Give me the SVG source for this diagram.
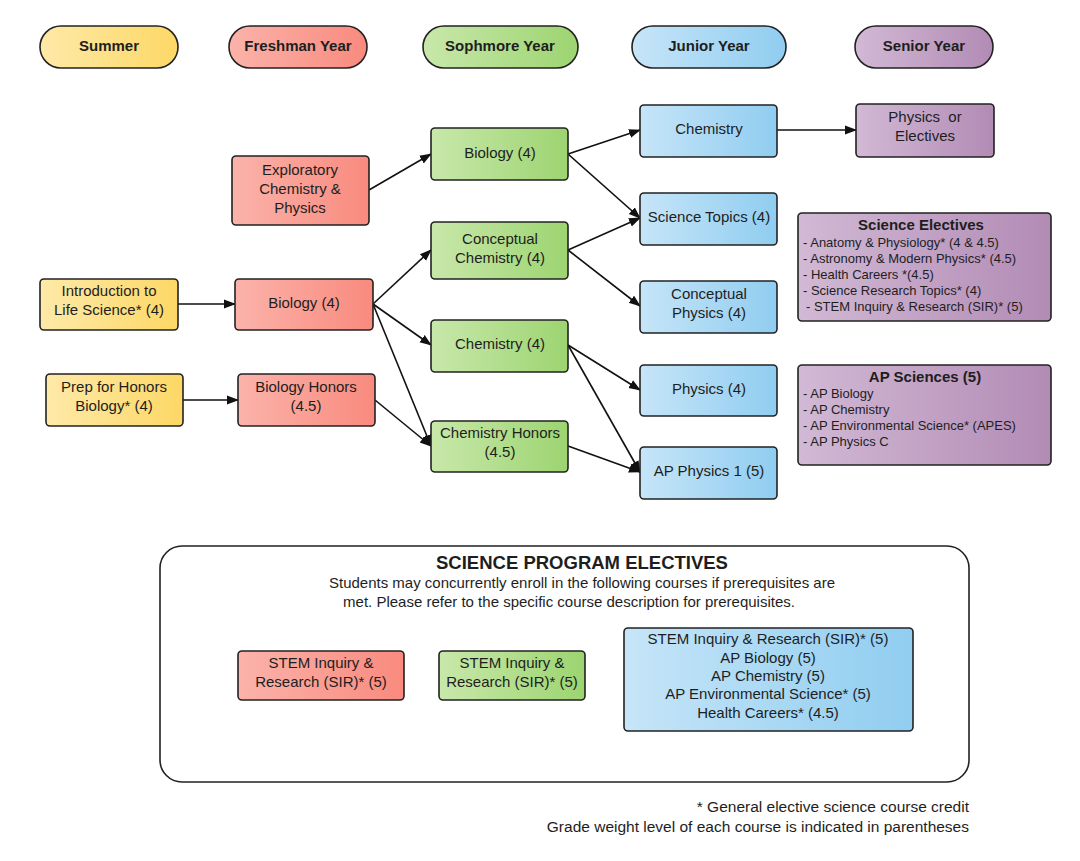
<svg xmlns="http://www.w3.org/2000/svg" width="1080" height="861" viewBox="0 0 1080 861">
<defs>
<linearGradient id="gY" x1="0" y1="0" x2="1" y2="0"><stop offset="0" stop-color="#fee9a8"/><stop offset="1" stop-color="#fdd866"/></linearGradient>
<linearGradient id="gR" x1="0" y1="0" x2="1" y2="0"><stop offset="0" stop-color="#fbb3aa"/><stop offset="1" stop-color="#f98a7e"/></linearGradient>
<linearGradient id="gG" x1="0" y1="0" x2="1" y2="0"><stop offset="0" stop-color="#c8e8aa"/><stop offset="1" stop-color="#9dd471"/></linearGradient>
<linearGradient id="gB" x1="0" y1="0" x2="1" y2="0"><stop offset="0" stop-color="#c6e5f8"/><stop offset="1" stop-color="#90cdf0"/></linearGradient>
<linearGradient id="gP" x1="0" y1="0" x2="1" y2="0"><stop offset="0" stop-color="#d2b9d5"/><stop offset="1" stop-color="#b28bb5"/></linearGradient>
<marker id="ah" viewBox="0 0 12 12" refX="11" refY="6" markerWidth="12" markerHeight="12" markerUnits="userSpaceOnUse" orient="auto"><path d="M0,1.5 L12,6 L0,10.5 Z" fill="#111"/></marker>
<style>
.n{stroke:#222;stroke-width:1.6}
.t{font-family:"Liberation Sans",Arial,sans-serif;font-size:15px;fill:#1e1e1e;text-anchor:middle}
.h{font-family:"Liberation Sans",Arial,sans-serif;font-size:15px;font-weight:bold;fill:#1e1e1e;text-anchor:middle}
.l{font-family:"Liberation Sans",Arial,sans-serif;font-size:13px;fill:#1e1e1e}
.c{stroke:#111;stroke-width:1.6;fill:none;marker-end:url(#ah)}
</style>
</defs>
<rect width="1080" height="861" fill="#fff"/>

<g id="hdr-summer"><rect class="n" x="40" y="26" width="138" height="42" rx="21" fill="url(#gY)"/><text class="h" x="109" y="51">Summer</text></g>
<g id="hdr-freshman"><rect class="n" x="229" y="26" width="138" height="42" rx="21" fill="url(#gR)"/><text class="h" x="298" y="51">Freshman Year</text></g>
<g id="hdr-sophmore"><rect class="n" x="423" y="26" width="155" height="42" rx="21" fill="url(#gG)"/><text class="h" x="500" y="51">Sophmore Year</text></g>
<g id="hdr-junior"><rect class="n" x="632" y="26" width="154" height="42" rx="21" fill="url(#gB)"/><text class="h" x="709" y="51">Junior Year</text></g>
<g id="hdr-senior"><rect class="n" x="855" y="26" width="138" height="42" rx="21" fill="url(#gP)"/><text class="h" x="924" y="51">Senior Year</text></g>

<g id="connectors">
<line class="c" x1="369" y1="190" x2="431" y2="154"/>
<line class="c" x1="568" y1="154" x2="640" y2="130"/>
<line class="c" x1="568" y1="154" x2="640" y2="218"/>
<line class="c" x1="568" y1="250" x2="640" y2="218"/>
<line class="c" x1="568" y1="250" x2="640" y2="306"/>
<line class="c" x1="777" y1="130" x2="856" y2="130"/>
<line class="c" x1="178" y1="304" x2="235" y2="304"/>
<line class="c" x1="373" y1="304" x2="431" y2="250"/>
<line class="c" x1="373" y1="304" x2="431" y2="345"/>
<line class="c" x1="373" y1="304" x2="431" y2="446"/>
<line class="c" x1="183" y1="400" x2="238" y2="400"/>
<line class="c" x1="375" y1="400" x2="431" y2="446"/>
<line class="c" x1="568" y1="345" x2="640" y2="390"/>
<line class="c" x1="568" y1="345" x2="640" y2="472"/>
<line class="c" x1="568" y1="446" x2="640" y2="472"/>
</g>

<g id="exploratory"><rect class="n" x="232" y="156" width="137" height="69" rx="4" fill="url(#gR)"/><text class="t" x="300" y="175">Exploratory</text><text class="t" x="300" y="194">Chemistry &amp;</text><text class="t" x="300" y="213">Physics</text></g>
<g id="intro-life"><rect class="n" x="40" y="279" width="138" height="51" rx="4" fill="url(#gY)"/><text class="t" x="109" y="296">Introduction to</text><text class="t" x="109" y="315">Life Science* (4)</text></g>
<g id="biology-fr"><rect class="n" x="235" y="279" width="138" height="51" rx="4" fill="url(#gR)"/><text class="t" x="304" y="308">Biology (4)</text></g>
<g id="prep-honors"><rect class="n" x="46" y="374" width="137" height="52" rx="4" fill="url(#gY)"/><text class="t" x="114" y="392">Prep for Honors</text><text class="t" x="114" y="411">Biology* (4)</text></g>
<g id="biology-honors"><rect class="n" x="238" y="374" width="137" height="52" rx="4" fill="url(#gR)"/><text class="t" x="306" y="392">Biology Honors</text><text class="t" x="306" y="411">(4.5)</text></g>

<g id="biology-so"><rect class="n" x="431" y="128" width="137" height="52" rx="4" fill="url(#gG)"/><text class="t" x="500" y="158">Biology (4)</text></g>
<g id="concept-chem"><rect class="n" x="431" y="222" width="137" height="57" rx="4" fill="url(#gG)"/><text class="t" x="500" y="244">Conceptual</text><text class="t" x="500" y="263">Chemistry (4)</text></g>
<g id="chemistry-so"><rect class="n" x="431" y="320" width="137" height="52" rx="4" fill="url(#gG)"/><text class="t" x="500" y="349">Chemistry (4)</text></g>
<g id="chem-honors"><rect class="n" x="431" y="421" width="137" height="51" rx="4" fill="url(#gG)"/><text class="t" x="500" y="438">Chemistry Honors</text><text class="t" x="500" y="457">(4.5)</text></g>

<g id="chemistry-jr"><rect class="n" x="640" y="105" width="137" height="52" rx="4" fill="url(#gB)"/><text class="t" x="709" y="134">Chemistry</text></g>
<g id="sci-topics"><rect class="n" x="640" y="193" width="137" height="52" rx="4" fill="url(#gB)"/><text class="t" x="709" y="222">Science Topics (4)</text></g>
<g id="concept-phys"><rect class="n" x="640" y="281" width="137" height="52" rx="4" fill="url(#gB)"/><text class="t" x="709" y="299">Conceptual</text><text class="t" x="709" y="318">Physics (4)</text></g>
<g id="physics-jr"><rect class="n" x="640" y="365" width="137" height="51" rx="4" fill="url(#gB)"/><text class="t" x="709" y="394">Physics (4)</text></g>
<g id="ap-physics1"><rect class="n" x="640" y="447" width="137" height="52" rx="4" fill="url(#gB)"/><text class="t" x="709" y="476">AP Physics 1 (5)</text></g>

<g id="physics-electives"><rect class="n" x="856" y="104" width="138" height="53" rx="4" fill="url(#gP)"/><text class="t" x="925" y="122">Physics&#160; or</text><text class="t" x="925" y="141">Electives</text></g>
<g id="sci-electives"><rect class="n" x="798" y="213" width="253" height="108" rx="4" fill="url(#gP)"/><text class="h" x="921" y="230">Science Electives</text>
<text class="l" x="803" y="247">- Anatomy &amp; Physiology* (4 &amp; 4.5)</text>
<text class="l" x="803" y="263">- Astronomy &amp; Modern Physics* (4.5)</text>
<text class="l" x="803" y="279">- Health Careers *(4.5)</text>
<text class="l" x="803" y="295">- Science Research Topics* (4)</text>
<text class="l" x="806" y="311"> - STEM Inquiry &amp; Research (SIR)* (5)</text></g>
<g id="ap-sciences"><rect class="n" x="798" y="365" width="253" height="100" rx="4" fill="url(#gP)"/><text class="h" x="925" y="382">AP Sciences (5)</text>
<text class="l" x="803" y="398">- AP Biology</text>
<text class="l" x="803" y="414">- AP Chemistry</text>
<text class="l" x="803" y="430">- AP Environmental Science* (APES)</text>
<text class="l" x="803" y="446">- AP Physics C</text></g>

<g id="program-electives">
<rect x="160" y="546" width="809" height="236" rx="22" fill="#fff" stroke="#222" stroke-width="1.6"/>
<text class="h" x="582" y="569" style="font-size:18.5px">SCIENCE PROGRAM ELECTIVES</text>
<text class="t" x="582" y="588">Students may concurrently enroll in the following courses if prerequisites are</text>
<text class="t" x="569" y="607">met. Please refer to the specific course description for prerequisites.</text>
</g>
<g id="stem-red"><rect class="n" x="238" y="651" width="166" height="49" rx="4" fill="url(#gR)"/><text class="t" x="321" y="668">STEM Inquiry &amp;</text><text class="t" x="321" y="687">Research (SIR)* (5)</text></g>
<g id="stem-green"><rect class="n" x="439" y="651" width="146" height="49" rx="4" fill="url(#gG)"/><text class="t" x="512" y="668">STEM Inquiry &amp;</text><text class="t" x="512" y="687">Research (SIR)* (5)</text></g>
<g id="stem-blue"><rect class="n" x="624" y="628" width="289" height="103" rx="4" fill="url(#gB)"/>
<text class="t" x="768" y="644">STEM Inquiry &amp; Research (SIR)* (5)</text>
<text class="t" x="768" y="663">AP Biology (5)</text>
<text class="t" x="768" y="681">AP Chemistry (5)</text>
<text class="t" x="768" y="699">AP Environmental Science* (5)</text>
<text class="t" x="768" y="718">Health Careers* (4.5)</text></g>

<g id="footnote">
<text class="t" x="969" y="812" style="text-anchor:end;font-size:15.5px">* General elective science course credit</text>
<text class="t" x="969" y="832" style="text-anchor:end;font-size:15.5px">Grade weight level of each course is indicated in parentheses</text>
</g>
</svg>
